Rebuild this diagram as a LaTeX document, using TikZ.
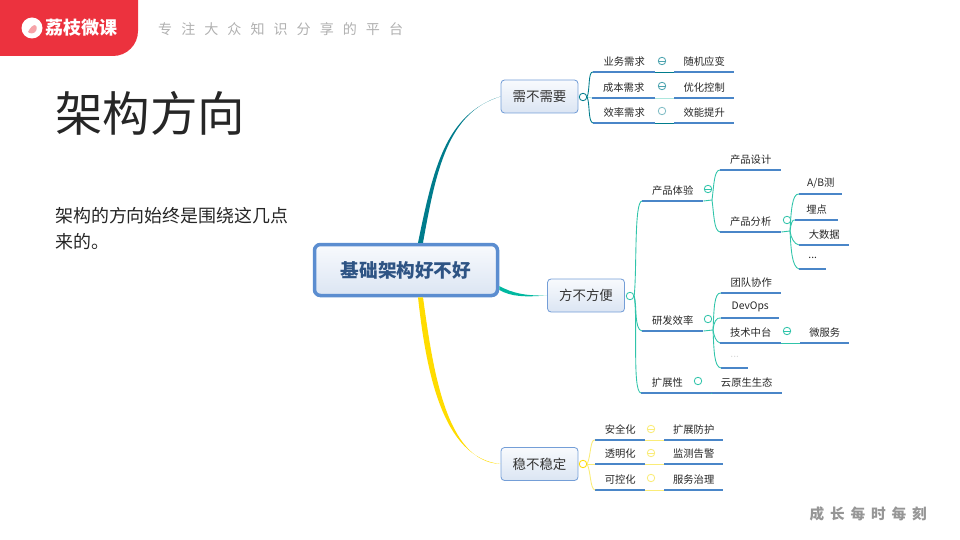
\documentclass[tikz,border=0pt]{standalone}
\usepackage{fontspec}
\setmainfont{Noto Sans CJK SC}
\usetikzlibrary{positioning,calc}
\definecolor{brandred}{RGB}{236,50,62}
\definecolor{tagcol}{RGB}{176,176,176}
\definecolor{footcol}{RGB}{150,150,150}
\definecolor{boxblue}{RGB}{91,141,208}
\definecolor{boxtop}{RGB}{248,250,253}
\definecolor{boxbot}{RGB}{219,229,243}
\definecolor{boxtext}{RGB}{46,84,132}
\definecolor{ulblue}{RGB}{74,134,200}
\definecolor{needcol}{RGB}{0,124,140}
\definecolor{easycol}{RGB}{0,184,160}
\definecolor{stabcol}{RGB}{255,220,0}
\definecolor{linkteal}{RGB}{48,196,170}
\definecolor{linkyel}{RGB}{250,236,120}
\begin{document}
\begin{tikzpicture}[
    x=0.03cm, y=-0.03cm,
    rootbox/.style={draw=boxblue, line width=3.5*0.03cm, rounded corners=5pt, top color=boxtop, bottom color=boxbot,
                    minimum width=183*0.03cm, minimum height=51*0.03cm, inner sep=0pt,
                    font=\fontsize{15.9}{18}\selectfont\bfseries, text=boxtext},
    topicbox/.style={draw=boxblue!85, line width=0.7pt, rounded corners=3pt, top color=boxtop, bottom color=boxbot,
                     minimum width=77*0.03cm, minimum height=33*0.03cm, inner sep=0pt,
                     font=\fontsize{11.5}{13}\selectfont, text=black!80},
    leaf/.style={minimum width=#1*0.03cm, minimum height=21*0.03cm, inner sep=0pt, anchor=south west,
                 font=\fontsize{8.8}{10}\selectfont, text=black!85,
                 append after command={(\tikzlastnode.south west) edge[uline] (\tikzlastnode.south east)}},
    uline/.style={draw=ulblue, line width=1.9*0.03cm},
    knob/.style={circle, draw=#1, fill=white, line width=0.7pt, minimum size=7.5*0.03cm, inner sep=0pt},
    knobm/.style={knob=#1, path picture={\draw[#1, line width=0.5pt] ([xshift=1pt]path picture bounding box.west) -- ([xshift=-1pt]path picture bounding box.east);}},
    link/.style={draw=#1, line width=0.75pt},
]
\useasboundingbox (0,0) rectangle (960,540);

% ============ HEADER ============
\fill[brandred, rounded corners=0.75cm] (0,-40) -- (138,-40) -- (138,56) -- (-40,56) -- (-40,-40) -- cycle;
\node[circle, fill=white, minimum size=21*0.03cm, inner sep=0pt] (logo) at (32,28) {};
\fill[brandred!45] ($(logo.center)+(-4,4)$) .. controls ($(logo.center)+(1,-6)$) and ($(logo.center)+(7,-4)$) .. ($(logo.center)+(4,3)$) .. controls ($(logo.center)+(2,6)$) and ($(logo.center)+(-2,6)$) .. cycle;
\node[font=\fontsize{15.4}{18}\selectfont\bfseries, text=white, anchor=west, inner sep=0pt] (brand) at (45,28) {荔枝微课};
\node[font=\fontsize{12}{14}\selectfont, text=tagcol, anchor=west, inner sep=0pt] (tag) at (158,29) {\spaceskip=7.7pt\relax 专 注 大 众 知 识 分 享 的 平 台};

% ============ TITLE AND BODY ============
\node[font=\fontsize{40.5}{46}\selectfont, text=black!85, anchor=west, inner sep=0pt] (title) at (55,113) {架构方向};
\node[font=\fontsize{15.3}{22.2}\selectfont, text=black!85, anchor=north west, inner sep=0pt, align=left] (body) at (55,207) {架构的方向始终是围绕这几点\\来的。};

% ============ ROOT AND TOPICS ============
\node[rootbox] (root) at (406,270) {基础架构好不好};
\node[topicbox] (need) at (539.5,96.5) {需不需要};
\node[topicbox] (easy) at (586,295.5) {方不方便};
\node[topicbox] (stab) at (539.5,464) {稳不稳定};

% root to topics, tapering
\fill[needcol] ($(root.north)+(12,0)$) .. controls (433,170) and (445,114) .. (need.west) .. controls (448,112) and (436,170) .. ($(root.north)+(17,0)$) -- cycle;
\fill[easycol] ($(root.east)+(0,16)$) .. controls (512,293) and (525,296) .. (easy.west) .. controls (525,297) and (512,297) .. ($(root.east)+(0,20)$) -- cycle;
\fill[stabcol] ($(root.south)+(12,0)$) .. controls (426,370) and (442,458) .. (stab.west) .. controls (446,462) and (433,370) .. ($(root.south)+(17,0)$) -- cycle;

% ============ NEED BRANCH ============
\node[knob=needcol] (needk) at (583,97) {};
\node[leaf=62] (biz) at (593,72) {业务需求};
\node[leaf=63] (cost) at (592,98) {成本需求};
\node[leaf=62] (eff) at (593,123) {效率需求};
\node[leaf=60] (adapt) at (674,72) {随机应变};
\node[leaf=60] (ctrl) at (674,98) {优化控制};
\node[leaf=60] (boost) at (674,123) {效能提升};
\draw[link=needcol] (needk.east) .. controls (590,90) and (588,71) .. (biz.south west);
\draw[link=linkteal!40] (needk.east) -- (cost.south west);
\draw[link=needcol] (needk.east) .. controls (590,104) and (588,122) .. (eff.south west);
\draw[link=needcol] (biz.south east) -- (adapt.south west);
\draw[link=linkteal!40] (cost.south east) -- (ctrl.south west);
\draw[link=needcol] (eff.south east) -- (boost.south west);
\node[knobm=needcol!70] (k1) at (662,61) {};
\node[knobm=needcol!70] (k2) at (662,86) {};
\node[knob=needcol!50] (k3) at (662,111) {};

% ============ EASY BRANCH ============
\node[knob=linkteal] (easyk) at (630,296) {};
\node[leaf=61] (exp) at (642,201) {产品体验};
\node[leaf=61] (dev) at (642,331) {研发效率};
\node[leaf=70] (scale) at (641,393) {扩展性\hspace*{15pt}};
\draw[link=linkteal] (easyk.east) .. controls (637,270) and (634,201) .. (exp.south west);
\draw[link=linkteal] (easyk.east) .. controls (637,304) and (634,330) .. (dev.south west);
\draw[link=linkteal] (easyk.east) .. controls (638,320) and (632,392) .. (scale.south west);

% product experience
\node[knobm=linkteal] (expk) at (708,189) {};
\coordinate (exphub) at (712,200);
\node[leaf=61] (design) at (720,170) {产品设计};
\node[leaf=61] (analy) at (720,232) {产品分析};
\draw[link=linkteal] (exp.south east) -- (exphub);
\draw[link=linkteal] (exphub) .. controls (714,185) and (714,170) .. (design.south west);
\draw[link=linkteal] (exphub) .. controls (714,215) and (714,231) .. (analy.south west);

\node[knob=linkteal] (analyk) at (787,220) {};
\coordinate (anahub) at (790,231);
\node[leaf=43] (ab) at (799,194) {A/B测};
\node[leaf=43] (track) at (795,220) {埋点};
\node[leaf=50] (bigdata) at (799,245) {大数据};
\node[leaf=27] (more) at (799,269) {...};
\draw[link=linkteal] (analy.south east) -- (anahub);
\draw[link=linkteal] (anahub) .. controls (791,212) and (792,193) .. (ab.south west);
\draw[link=linkteal] (anahub) .. controls (791,224) and (792,219) .. (track.south west);
\draw[link=linkteal] (anahub) .. controls (791,238) and (794,244) .. (bigdata.south west);
\draw[link=linkteal] (anahub) .. controls (791,250) and (792,267) .. (more.south west);

% dev efficiency
\node[knob=linkteal] (devk) at (708,319) {};
\coordinate (devhub) at (713,330);
\node[leaf=60] (team) at (721,293) {团队协作};
\node[leaf=58] (devops) at (721,318) {DevOps};
\node[leaf=61] (mid) at (720,343) {技术中台};
\node[leaf=27, text=black!15] (more2) at (721,368) {...};
\draw[link=linkteal] (dev.south east) -- (devhub);
\draw[link=linkteal] (devhub) .. controls (714,310) and (714,292) .. (team.south west);
\draw[link=linkteal] (devhub) .. controls (714,322) and (716,317) .. (devops.south west);
\draw[link=linkteal] (devhub) .. controls (714,336) and (716,342) .. (mid.south west);
\draw[link=linkteal] (devhub) .. controls (714,350) and (714,367) .. (more2.south west);
\node[knobm=linkteal] (midk) at (787,331) {};
\node[leaf=49] (micro) at (800,343) {微服务};
\draw[link=linkteal] (mid.south east) -- (micro.south west);

% extensibility
\node[knob=linkteal] (scalek) at (698,381) {};
\node[leaf=71] (cloud) at (711,393) {云原生生态};
\draw[link=linkteal] (scale.south east) -- (cloud.south west);

% ============ STABLE BRANCH ============
\node[knob=stabcol] (stabk) at (583,464) {};
\node[leaf=50] (safe) at (595,440) {安全化};
\node[leaf=50] (clear) at (595,464) {透明化};
\node[leaf=50] (steer) at (595,490) {可控化};
\node[leaf=59] (guard) at (664,440) {扩展防护};
\node[leaf=59] (watch) at (664,464) {监测告警};
\node[leaf=59] (govern) at (664,490) {服务治理};
\draw[link=linkyel] (stabk.east) .. controls (591,456) and (590,439) .. (safe.south west);
\draw[link=linkyel] (stabk.east) -- (clear.south west);
\draw[link=linkyel] (stabk.east) .. controls (591,472) and (590,489) .. (steer.south west);
\draw[link=linkyel] (safe.south east) -- (guard.south west);
\draw[link=linkyel] (clear.south east) -- (watch.south west);
\draw[link=linkyel] (steer.south east) -- (govern.south west);
\node[knobm=linkyel] (s1) at (651,429) {};
\node[knobm=linkyel] (s2) at (651,453) {};
\node[knob=linkyel] (s3) at (651,478) {};

% ============ FOOTER ============
\node[font=\fontsize{12.5}{14}\selectfont\bfseries, text=footcol, anchor=east, inner sep=0pt] (foot) at (927,514) {\spaceskip=5pt\relax 成 长 每 时 每 刻};
\end{tikzpicture}
\end{document}
